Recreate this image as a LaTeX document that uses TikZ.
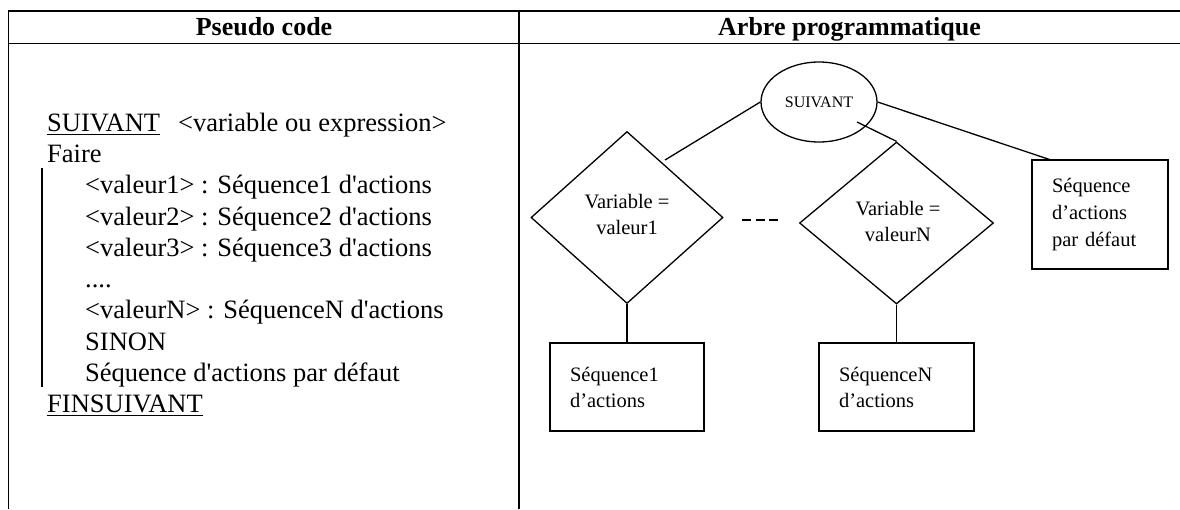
\documentclass[tikz,border=0pt]{standalone}
\usepackage{fontspec}
\setmainfont{Liberation Serif}[Ligatures=TeXOff]
\usetikzlibrary{shapes.geometric}
\begin{document}
\begin{tikzpicture}[x=1pt,y=-1pt,
  rule/.style={line width=1.7pt},
  shp/.style={draw,line width=1.3pt},
  code/.style={anchor=base west,inner sep=0,font=\fontsize{26.5}{31}\selectfont},
  head/.style={anchor=base,inner sep=0,font=\fontsize{26}{31}\selectfont\bfseries},
  lbl/.style={font=\fontsize{20.5}{26}\selectfont},
  seqbox/.style={shp,rectangle,lbl,inner xsep=20pt,inner ysep=0pt,align=left}]
\useasboundingbox (0,0) rectangle (1180,509);

% table frame
\draw[rule] (8.5,509) -- (8.5,11) -- (1180,11);
\draw[rule] (8.5,43.5) -- (1180,43.5);
\draw[rule] (519,11) -- (519,509);

% column headers
\node[head] (h1) at (264,35.5) {Pseudo code};
\node[head] (h2) at (849.5,35.5) {Arbre programmatique};

% pseudo code
\node[code] (l0) at (47,131.5) {SUIVANT};
\node[code] (l0b) at (178,131.5) {<variable ou expression>};
\node[code] (l1) at (47,162.5) {Faire};
\node[code] (l2) at (85,193.5) {<valeur1> : Séquence1 d'actions};
\node[code] (l3) at (85,225) {<valeur2> : Séquence2 d'actions};
\node[code] (l4) at (85,256) {<valeur3> : Séquence3 d'actions};
\node[code] (l5) at (85,287.5) {....};
\node[code] (l6) at (85,318.5) {<valeurN> : SéquenceN d'actions};
\node[code] (l7) at (85,350) {SINON};
\node[code] (l8) at (85,381) {Séquence d'actions par défaut};
\node[code] (l9) at (47,412.5) {FINSUIVANT};
\draw[line width=1.4pt] ([yshift=-3pt]l0.base west) -- ([yshift=-3pt]l0.base east);
\draw[line width=1.4pt] ([yshift=-3pt]l9.base west) -- ([yshift=-3pt]l9.base east);
\draw[line width=1.5pt] (42,168) -- (42,387);

% tree
\node[shp,ellipse,minimum width=116,minimum height=80,inner sep=0,
      font=\fontsize{16}{18}\selectfont] (suiv) at (819,102) {SUIVANT};
\node[shp,diamond,minimum width=192,minimum height=172,inner sep=0] (d1) at (627,217.5) {};
\node[lbl,align=center,inner sep=0] (d1t) at (627,214.5) {Variable =\\valeur1};
\node[shp,diamond,minimum width=194,minimum height=162,inner sep=0] (d2) at (896.5,223) {};
\node[lbl,align=center,inner sep=0] (d2t) at (898,221.5) {Variable =\\valeurN};

\node[seqbox,minimum width=154,minimum height=88,text width=114] (b1) at (627,387) {Séquence1\\d’actions};
\node[seqbox,minimum width=155,minimum height=88,text width=115] (b2) at (896.5,387) {SéquenceN\\d’actions};
\node[seqbox,minimum width=136,minimum height=109,text width=96,
      font=\fontsize{20.5}{27}\selectfont] (dflt) at (1100,214.5) {Séquence\\d’actions\\par défaut};

\coordinate (c1) at (665,160);
\coordinate (c2) at (857,122);
\coordinate (c3) at (1051,160);
\draw[shp] (suiv.west) -- (c1);
\draw[shp] (c2) -- (d2.north);
\draw[shp] (suiv.east) -- (c3);
\draw[shp] (d1.south) -- (b1.north);
\draw[shp] (d2.south) -- (b2.north);
\draw[line width=1.3pt,dash pattern=on 9pt off 4.5pt] (742,220) -- (778,220);
\end{tikzpicture}
\end{document}
